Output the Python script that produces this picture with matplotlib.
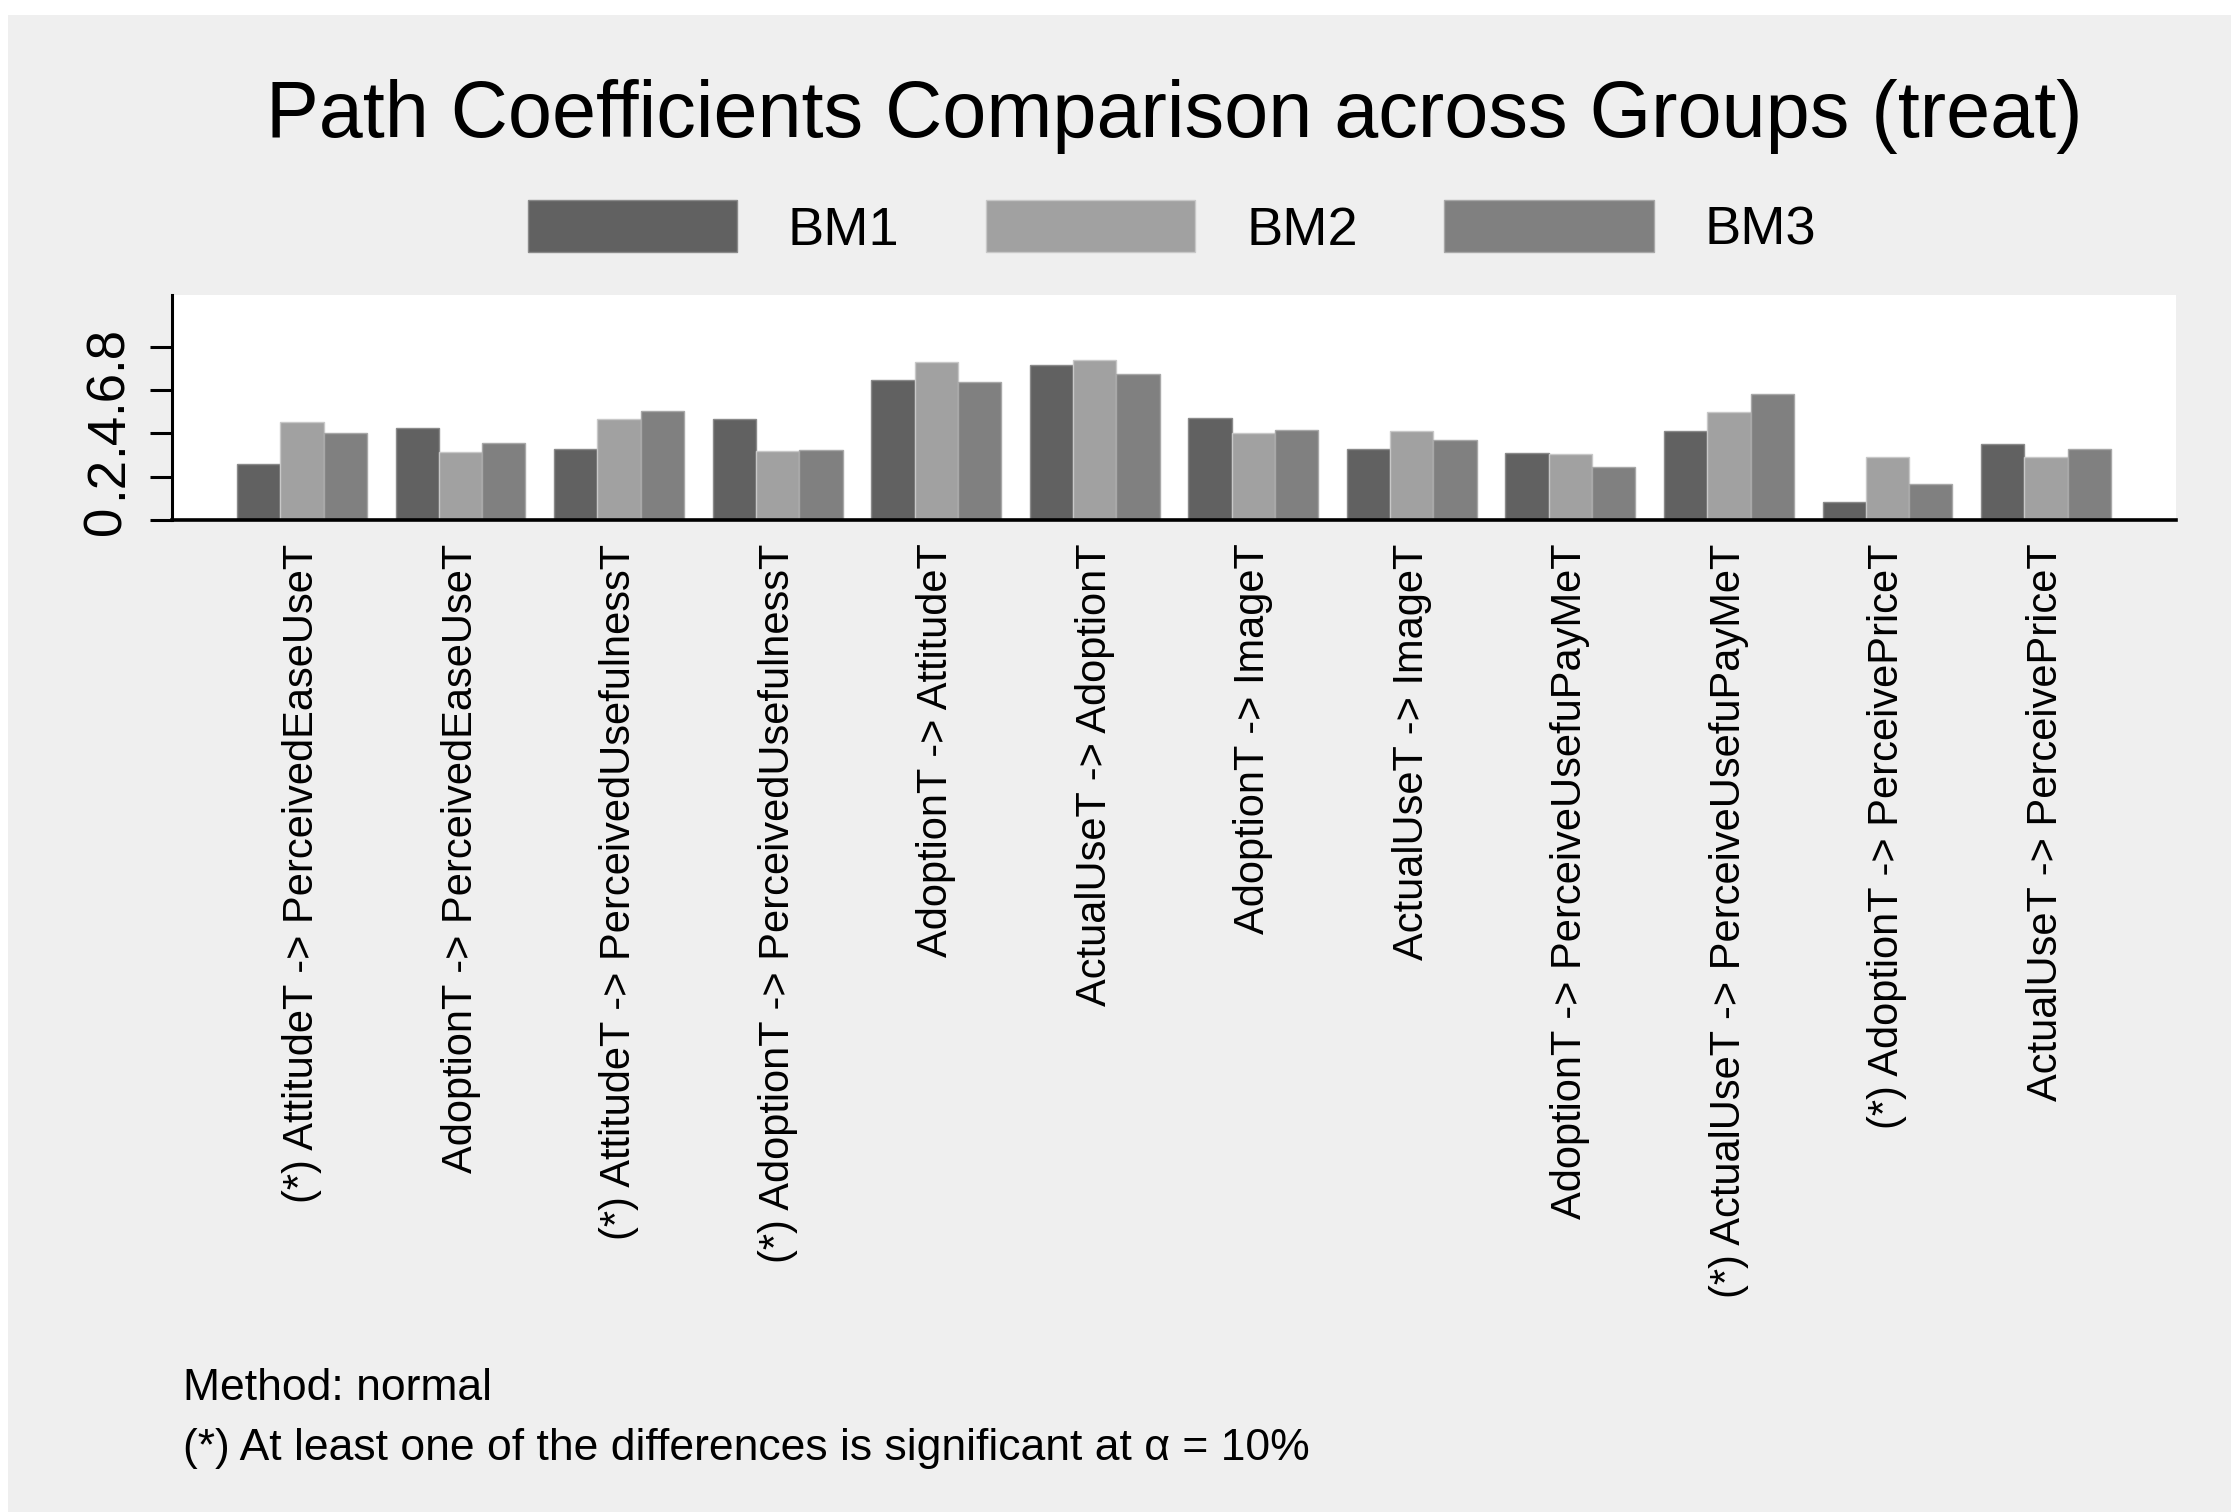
import numpy as np
import matplotlib
matplotlib.use("Agg")
import matplotlib.pyplot as plt
from matplotlib.patches import Rectangle

plt.rcParams['font.family'] = ['Liberation Sans', 'DejaVu Sans']

# path labels, (*) marks a significant difference
paths = [
    "(*) AttitudeT -> PerceivedEaseUseT",
    "AdoptionT -> PerceivedEaseUseT",
    "(*) AttitudeT -> PerceivedUsefulnessT",
    "(*) AdoptionT -> PerceivedUsefulnessT",
    "AdoptionT -> AttitudeT",
    "ActualUseT -> AdoptionT",
    "AdoptionT -> ImageT",
    "ActualUseT -> ImageT",
    "AdoptionT -> PerceiveUsefuPayMeT",
    "(*) ActualUseT -> PerceiveUsefuPayMeT",
    "(*) AdoptionT -> PerceivePriceT",
    "ActualUseT -> PerceivePriceT",
]
bm1 = [0.257, 0.423, 0.326, 0.465, 0.646, 0.714, 0.469, 0.326, 0.308, 0.409, 0.082, 0.349]
bm2 = [0.454, 0.315, 0.465, 0.320, 0.728, 0.737, 0.400, 0.409, 0.303, 0.497, 0.289, 0.289]
bm3 = [0.403, 0.354, 0.505, 0.322, 0.635, 0.672, 0.414, 0.368, 0.243, 0.580, 0.165, 0.326]
groups = ["BM1", "BM2", "BM3"]
colors = ["#616161", "#a1a1a1", "#808080"]
edges = ["#8a8a8a", "#c8c8c8", "#a8a8a8"]

yticks = [0, 0.2, 0.4, 0.6, 0.8]
ytick_labels = ["0", ".2", ".4", ".6", ".8"]

W, H = 2231, 1512
fig = plt.figure(figsize=(W / 100, H / 100), dpi=100)
fig.patch.set_facecolor("white")
fig.patches.append(Rectangle((8 / W, 0), 1 - 8 / W, 1 - 15 / H,
                             transform=fig.transFigure, facecolor="#efefef",
                             edgecolor="none", zorder=-10))

ax = fig.add_axes([172 / W, 1 - 520 / H, (2176 - 172) / W, 225 / H])
ax.set_facecolor("white")

x = np.arange(len(paths))
bw = 0.273
for i, (vals, c, ec, name) in enumerate(zip([bm1, bm2, bm3], colors, edges, groups)):
    ax.bar(x + (i - 1) * bw, vals, width=bw, color=c, edgecolor=ec,
           linewidth=1.0, label=name, zorder=2)

ax.set_xlim(-0.82, len(paths) - 1 + 0.82)
ax.set_ylim(0, 1.038)

for s in ["top", "right"]:
    ax.spines[s].set_visible(False)
ax.spines["left"].set_linewidth(2.2)
ax.spines["bottom"].set_linewidth(2.6)
ax.spines["bottom"].set_zorder(3)

ax.set_yticks(yticks)
ax.set_yticklabels(ytick_labels, rotation=90, va="center", fontsize=38)
ax.tick_params(axis="y", length=16, width=2.2, pad=13)

ax.set_xticks(x)
ax.set_xticklabels(paths, rotation=90, ha="center", va="top", fontsize=30)
ax.tick_params(axis="x", length=0, pad=17)

fig.text(1174 / W, 1 - 137 / H, "Path Coefficients Comparison across Groups (treat)",
         ha="center", va="baseline", fontsize=57)

fig.legend(loc="center", bbox_to_anchor=(1172 / W, 1 - 228 / H), ncol=3,
           frameon=False, fontsize=39, handlelength=3.86, handleheight=1.08,
           handletextpad=0.94, columnspacing=1.6, borderpad=0)

fig.text(183 / W, 1 - 1400 / H, "Method: normal", ha="left", va="baseline", fontsize=32)
fig.text(183 / W, 1 - 1460 / H,
         "(*) At least one of the differences is significant at \u03b1 = 10%",
         ha="left", va="baseline", fontsize=32)

fig.savefig("out.png", dpi=100, facecolor=fig.get_facecolor())
